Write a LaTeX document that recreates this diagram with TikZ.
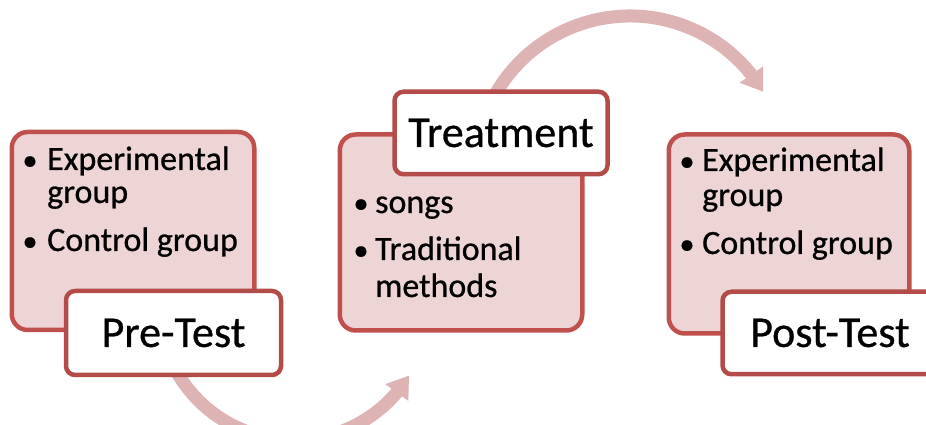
\documentclass[tikz,border=0pt]{standalone}
\usepackage{fontspec}
\setmainfont{Carlito}[FakeBold=0.7]
\usetikzlibrary{arrows.meta,bending}
\definecolor{pinkfill}{HTML}{EDD5D5}
\definecolor{pinkline}{HTML}{C0504D}
\definecolor{labline}{HTML}{B34C49}
\definecolor{arrowpink}{HTML}{DEB3B3}
\begin{document}
\begin{tikzpicture}[x=1pt,y=1pt,
  groupbox/.style={draw=pinkline,fill=pinkfill,line width=4.5pt,rounded corners=16pt,inner sep=0pt},
  labelbox/.style={draw=labline,fill=white,line width=4.5pt,rounded corners=9pt,inner sep=0pt,
    font=\fontsize{44}{50}\selectfont},
  itemtext/.style={anchor=base west,inner sep=0pt,font=\fontsize{34}{40}\selectfont},
  bulletdot/.style={anchor=base,inner sep=0pt,font=\fontsize{30}{36}\selectfont},
  flowarrow/.style={draw=arrowpink,line width=13pt,-{Triangle[width=27pt,length=21pt]}}]
\useasboundingbox (0,0) rectangle (926,425);
% arcs (behind boxes)
\coordinate (topc) at (630,254);
\coordinate (botc) at (294,120);
\draw[flowarrow] (topc) ++(150:155) arc[start angle=150,end angle=30.7,radius=155];
\draw[flowarrow] (botc) ++(210:135) arc[start angle=210,end angle=328.5,radius=135];
% pink boxes
\node[groupbox,minimum width=242.5pt,minimum height=198pt] (g1) at (133,194) {};
\node[groupbox,minimum width=242.5pt,minimum height=196pt] (g2) at (461,192.5) {};
\node[groupbox,minimum width=240.5pt,minimum height=199pt] (g3) at (789,191) {};
% label boxes
\node[labelbox,minimum width=215pt,minimum height=84pt] (pre) at (173.5,92) {Pre-Test};
\node[labelbox,minimum width=213pt,minimum height=82.5pt] (treat) at (501,292) {Treatment};
\node[labelbox,minimum width=215pt,minimum height=82.5pt] (post) at (830,92) {Post-Test};
% box 1 text
\node[bulletdot] (b1a) at (30,255) {•};
\node[itemtext] (t1a) at (47,255) {Experimental};
\node[itemtext] (t1b) at (47,222) {group};
\node[bulletdot] (b1b) at (30,174) {•};
\node[itemtext] (t1c) at (47,174) {Control group};
% box 2 text
\node[bulletdot] (b2a) at (361,212) {•};
\node[itemtext] (t2a) at (375,212) {songs};
\node[bulletdot] (b2b) at (361,165) {•};
\node[itemtext] (t2b) at (375,165) {Traditional};
\node[itemtext] (t2c) at (375,128) {methods};
% box 3 text
\node[bulletdot] (b3a) at (687,254) {•};
\node[itemtext] (t3a) at (702,254) {Experimental};
\node[itemtext] (t3b) at (702,219) {group};
\node[bulletdot] (b3b) at (687,171) {•};
\node[itemtext] (t3c) at (702,171) {Control group};
\end{tikzpicture}
\end{document}
